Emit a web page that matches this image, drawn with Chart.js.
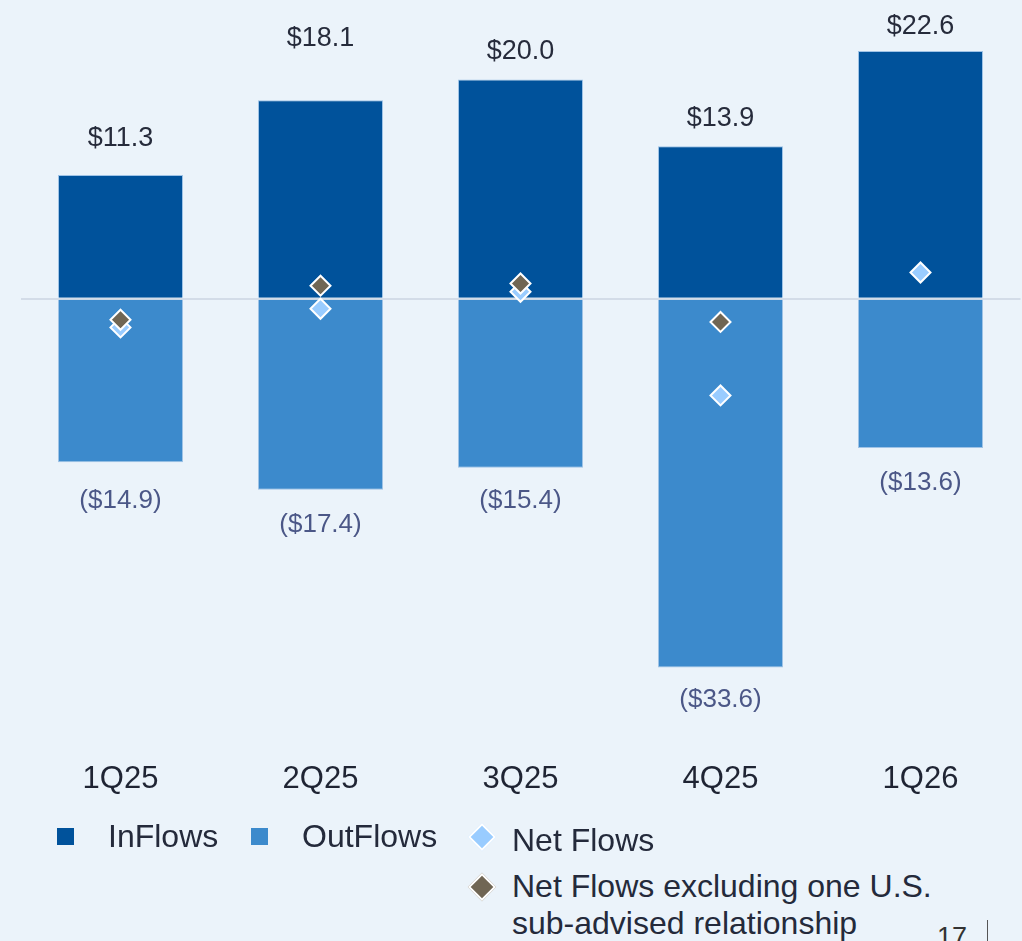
<!DOCTYPE html>
<html>
<head>
<meta charset="utf-8">
<script src="https://cdn.jsdelivr.net/npm/chart.js@4/dist/chart.umd.min.js"></script>
<style>
  html, body { margin: 0; padding: 0; background: #ebf3fa; overflow: hidden; }
  body { width: 1022px; height: 941px; position: relative;
         font-family: "Liberation Sans", Arial, Helvetica, sans-serif; color: #242a3b; }
  #c { position: absolute; left: 0; top: 0; }
  .sq { position: absolute; width: 17px; height: 17px; }
  .dia { position: absolute; width: 20px; height: 20px; box-sizing: border-box;
         border: 2px solid #ffffff; transform: rotate(45deg); }
  .lt { position: absolute; font-size: 32px; line-height: 32px; white-space: nowrap; }
  .lt2 { position: absolute; font-size: 32px; line-height: 37px; white-space: nowrap; }
  #pg { position: absolute; left: 937px; top: 924px; font-size: 27px; line-height: 27px; color: #333; }
  #pgline { position: absolute; left: 987px; top: 920px; width: 1px; height: 21px; background: #555; }
</style>
</head>
<body>
<canvas id="c" width="1022" height="825" style="width:1022px;height:825px;"></canvas>

<div class="sq" style="left:57px; top:828px; background:#00529b;"></div>
<div class="lt" style="left:108px; top:820px;">InFlows</div>
<div class="sq" style="left:251px; top:828px; background:#3c8acc;"></div>
<div class="lt" style="left:302px; top:820px;">OutFlows</div>
<div class="dia" style="left:472px; top:827px; background:#99ccff;"></div>
<div class="lt" style="left:512px; top:824px;">Net Flows</div>
<div class="dia" style="left:472px; top:877px; background:#706654;"></div>
<div class="lt2" style="left:512px; top:868px;">Net Flows excluding one U.S.<br>sub-advised relationship</div>
<div id="pg">17</div>
<div id="pgline"></div>

<script>
const categories = ['1Q25', '2Q25', '3Q25', '4Q25', '1Q26'];
const inflows = [11.3, 18.1, 20.0, 13.9, 22.6];
const outflows = [-14.9, -17.4, -15.4, -33.6, -13.6];
const netFlows = [-2.6, -0.9, 0.65, -8.8, 2.4];
const netFlowsExcl = [-1.9, 1.2, 1.4, -2.1, null];
const inflowLabels = ['$11.3', '$18.1', '$20.0', '$13.9', '$22.6'];
const outflowLabels = ['($14.9)', '($17.4)', '($15.4)', '($33.6)', '($13.6)'];

const barLabelPlugin = {
  id: 'barLabels',
  afterDatasetsDraw(chart, args, opts) {
    const ctx = chart.ctx;
    ctx.save();
    ctx.textAlign = 'center';
    ctx.textBaseline = 'alphabetic';
    const inMeta = chart.getDatasetMeta(0);
    ctx.font = '27px "Liberation Sans", Arial, sans-serif';
    ctx.fillStyle = '#262b3b';
    inMeta.data.forEach((bar, i) => {
      ctx.fillText(inflowLabels[i], bar.x, bar.y - opts.inGap[i]);
    });
    const outMeta = chart.getDatasetMeta(1);
    ctx.font = '26px "Liberation Sans", Arial, sans-serif';
    ctx.fillStyle = '#4b5787';
    outMeta.data.forEach((bar, i) => {
      ctx.fillText(outflowLabels[i], bar.x, bar.y + opts.outGap[i]);
    });
    ctx.restore();
  }
};

new Chart(document.getElementById('c'), {
  type: 'bar',
  data: {
    labels: categories,
    datasets: [
      { label: 'InFlows', data: inflows, backgroundColor: '#00529b', borderColor: '#9fc3e6',
        borderWidth: 1, grouped: false, barPercentage: 0.625, categoryPercentage: 1, order: 3 },
      { label: 'OutFlows', data: outflows, backgroundColor: '#3c8acc', borderColor: '#9fc3e6',
        borderWidth: 1, grouped: false, barPercentage: 0.625, categoryPercentage: 1, order: 3 },
      { type: 'line', label: 'Net Flows', data: netFlows, showLine: false,
        pointStyle: 'rectRot', pointRadius: 10, pointHoverRadius: 10,
        pointBackgroundColor: '#99ccff', pointBorderColor: '#ffffff', pointBorderWidth: 2, order: 2 },
      { type: 'line', label: 'Net Flows excluding one U.S. sub-advised relationship', data: netFlowsExcl, showLine: false,
        pointStyle: 'rectRot', pointRadius: 10, pointHoverRadius: 10,
        pointBackgroundColor: '#706654', pointBorderColor: '#ffffff', pointBorderWidth: 2, order: 1 }
    ]
  },
  options: {
    responsive: false,
    maintainAspectRatio: false,
    devicePixelRatio: 1,
    animation: false,
    events: [],
    layout: { autoPadding: false, padding: { left: 20.5, right: 1.5, top: 2.6, bottom: 4.4 } },
    plugins: {
      legend: { display: false },
      tooltip: { enabled: false },
      barLabels: { inGap: [29, 54, 20, 20, 17], outGap: [46, 42, 40, 39, 42] }
    },
    scales: {
      x: {
        grid: { display: false, drawTicks: false },
        border: { display: false },
        ticks: { padding: 22.8, color: '#1f2433', font: { size: 31, family: '"Liberation Sans", Arial, sans-serif' } }
      },
      y: {
        min: -40, max: 27,
        grid: { drawTicks: false, lineWidth: 2,
                color: (c) => (c.tick && c.tick.value === 0) ? '#d3dce8' : 'rgba(0,0,0,0)' },
        border: { display: false },
        ticks: { display: false, stepSize: 10 }
      }
    }
  },
  plugins: [barLabelPlugin]
});
</script>
</body>
</html>
